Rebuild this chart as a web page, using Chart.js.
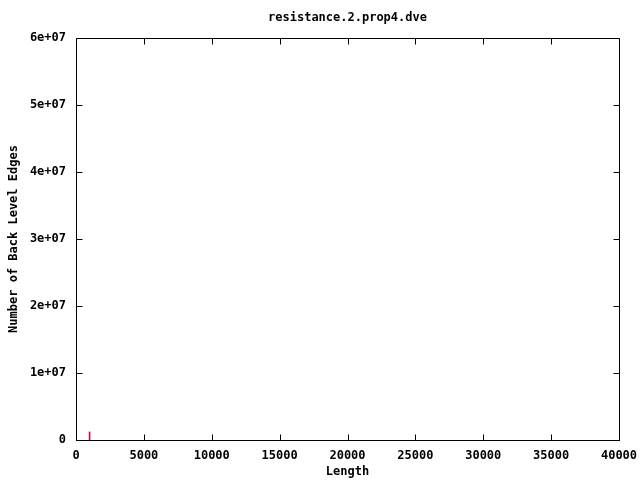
<!DOCTYPE html>
<html>
<head>
<meta charset="utf-8">
<script src="https://cdn.jsdelivr.net/npm/chart.js@4/dist/chart.umd.min.js"></script>
<style>
html,body{margin:0;padding:0;background:#fff;}
#wrap{width:640px;height:480px;}
</style>
</head>
<body>
<div id="wrap"><canvas id="c" width="640" height="480"></canvas></div>
<script>
const chartTitle = "resistance.2.prop4.dve";
const xTitle = "Length";
const yTitle = "Number of Back Level Edges";
const lengths = [1000];
const edgeCounts = [1200000];
const xTicks = [0, 5000, 10000, 15000, 20000, 25000, 30000, 35000, 40000];
const yTicks = [0, 10000000, 20000000, 30000000, 40000000, 50000000, 60000000];
const yTickLabels = ["0", "1e+07", "2e+07", "3e+07", "4e+07", "5e+07", "6e+07"];

const FONT = "bold 12px 'DejaVu Sans Mono'";

const framePlugin = {
  id: 'frame',
  afterDraw(chart) {
    const ctx = chart.ctx;
    const a = chart.chartArea;
    const xs = chart.scales.x, ys = chart.scales.y;
    const L = Math.round(a.left) + 0.5, R = Math.round(a.right) + 0.5;
    const T = Math.round(a.top) + 0.5, B = Math.round(a.bottom) + 0.5;
    ctx.save();
    ctx.strokeStyle = '#000';
    ctx.lineWidth = 1;
    ctx.beginPath();
    ctx.rect(L, T, R - L, B - T);
    const tl = 6;
    xTicks.forEach(v => {
      const px = Math.round(xs.getPixelForValue(v)) + 0.5;
      ctx.moveTo(px, B); ctx.lineTo(px, B - tl);
      ctx.moveTo(px, T); ctx.lineTo(px, T + tl);
    });
    yTicks.forEach(v => {
      const py = Math.round(ys.getPixelForValue(v)) + 0.5;
      ctx.moveTo(L, py); ctx.lineTo(L + tl, py);
      ctx.moveTo(R, py); ctx.lineTo(R - tl, py);
    });
    ctx.stroke();
    ctx.fillStyle = '#000';
    ctx.font = FONT;
    ctx.textAlign = 'center';
    ctx.textBaseline = 'middle';
    const cx = (a.left + a.right) / 2;
    ctx.fillText(chartTitle, cx, 18);
    ctx.fillText(xTitle, cx, 472);
    ctx.translate(14, (a.top + a.bottom) / 2);
    ctx.rotate(-Math.PI / 2);
    ctx.fillText(yTitle, 0, 0);
    ctx.restore();
  }
};

new Chart(document.getElementById('c'), {
  type: 'bar',
  data: {
    datasets: [{
      data: lengths.map((l, i) => ({x: l, y: edgeCounts[i]})),
      backgroundColor: '#c0103c',
      borderWidth: 0,
      barThickness: 1,
      grouped: false
    }]
  },
  options: {
    responsive: false,
    animation: false,
    events: [],
    layout: {padding: {left: 0, right: 21, top: 38, bottom: 0}},
    plugins: {legend: {display: false}, title: {display: false}, tooltip: {enabled: false}},
    scales: {
      x: {
        type: 'linear',
        offset: false,
        min: 0, max: 40000,
        afterBuildTicks(s) { s.ticks = xTicks.map(v => ({value: v})); },
        afterFit(s) { s.height = 40; },
        grid: {display: false, offset: false},
        border: {display: false},
        ticks: {
          color: '#000',
          font: {family: 'DejaVu Sans Mono', size: 12, weight: 'bold'},
          padding: 1,
          maxRotation: 0,
          autoSkip: false,
          callback: v => String(v)
        }
      },
      y: {
        type: 'linear',
        min: 0, max: 60000000,
        afterBuildTicks(s) { s.ticks = yTicks.map(v => ({value: v})); },
        afterFit(s) { s.width = 76; },
        grid: {display: false},
        border: {display: false},
        ticks: {
          color: '#000',
          font: {family: 'DejaVu Sans Mono', size: 12, weight: 'bold'},
          padding: 2,
          autoSkip: false,
          callback: v => yTickLabels[yTicks.indexOf(v)]
        }
      }
    }
  },
  plugins: [framePlugin]
});
</script>
</body>
</html>
